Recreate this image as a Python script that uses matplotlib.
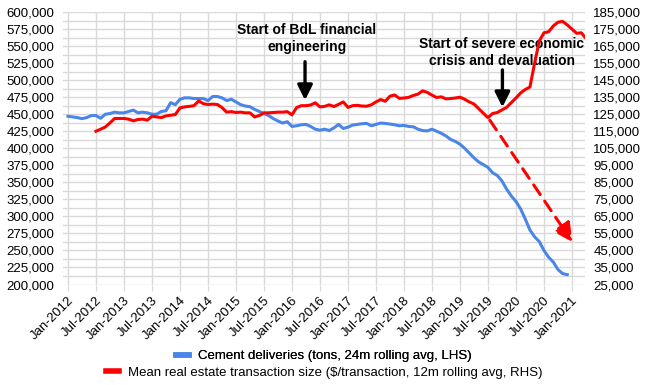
import numpy as np
import matplotlib
matplotlib.use("Agg")
import matplotlib.pyplot as plt
import matplotlib.transforms as mtransforms
from matplotlib.lines import Line2D

plt.rcParams['font.family'] = ['Liberation Sans', 'DejaVu Sans']

# month index 0 = Jan-2012
cement_start = 0
cement = [447, 446, 445, 443.5, 445, 448, 448, 444, 450, 451, 453, 452,
          452, 454, 456, 452, 453, 452, 450, 450, 454, 455, 467, 464,
          472, 474, 474, 473, 473, 473, 470, 476, 476, 474, 470, 472,
          468, 464, 462, 461, 457, 454, 451, 448, 443.5, 440, 437, 439,
          432, 433, 434.5, 435, 432, 428, 426.5, 428, 426, 430, 435, 429,
          431, 434, 435, 436, 436.5, 433, 435, 437, 436.5, 435.5, 434.5, 433,
          433.5, 432, 431.5, 428, 426, 425.5, 428, 425, 422, 418, 413, 410,
          406, 400, 393, 386, 380, 376, 372, 364, 360, 352, 340, 330,
          322, 311, 296, 280, 270, 263, 250, 240, 233, 222, 216, 214.5]
cement = np.array(cement) * 1000

txn_start = 6
txn = [115.0, 116.2, 117.5, 119.9, 122.5, 122.5,
       122.5, 122.1, 121.1, 121.9, 122.1, 121.5, 123.8, 123.4, 123.0, 124.0, 124.4, 124.8,
       128.7, 129.3, 129.6, 130.0, 132.8, 131.2, 130.7, 130.9, 130.7, 128.9, 126.2, 126.5,
       126.0, 126.2, 125.8, 125.8, 123.4, 124.2, 125.8, 125.8, 126.0, 126.2, 126.2, 126.5,
       124.6, 128.9, 130.0, 130.0, 130.4, 131.7, 129.3, 129.6, 130.5, 129.5, 130.8, 132.2,
       129.0, 130.0, 130.2, 129.8, 129.7, 130.5, 132.2, 133.6, 132.6, 135.6, 136.3, 134.3,
       134.5, 134.9, 136.0, 136.8, 138.7, 137.8, 136.2, 134.8, 135.2, 134.0, 134.2, 134.5,
       135.0, 133.8, 132.2, 131.0, 128.3, 125.6, 123.0, 125.4, 126.0, 127.5, 129.0, 131.8,
       134.5, 137.5, 139.5, 141.0, 155.0, 168.0, 172.8, 173.4, 176.8, 179.0, 179.5, 177.4,
       175.0, 172.5, 172.8, 169.5]
txn = np.array(txn) * 1000

tick_months = list(range(0, 109, 6))
tick_labels = ["Jan-2012", "Jul-2012", "Jan-2013", "Jul-2013", "Jan-2014", "Jul-2014",
               "Jan-2015", "Jul-2015", "Jan-2016", "Jul-2016", "Jan-2017", "Jul-2017",
               "Jan-2018", "Jul-2018", "Jan-2019", "Jul-2019", "Jan-2020", "Jul-2020",
               "Jan-2021"]

blue = '#4a86e8'
red = '#ff0000'
grid_c = '#d9d9d9'

fig = plt.figure(figsize=(6.48, 3.85), dpi=100)
ax = fig.add_axes([0.0972, 0.261, 0.8056, 0.7078])
ax2 = ax.twinx()

x_c = np.arange(len(cement)) + cement_start
x_t = np.arange(len(txn)) + txn_start
ax.plot(x_c, cement, color=blue, lw=2.2, zorder=3)
ax2.plot(x_t, txn, color=red, lw=2.2, zorder=3)

ax.set_xlim(-1.07, 110.8)
ax.set_ylim(200000, 600000)
ax2.set_ylim(25000, 185000)
ax.set_yticks(np.arange(200000, 600001, 25000))
ax.set_yticks(np.arange(212500, 600000, 25000), minor=True)
ax2.set_yticks(np.arange(25000, 185001, 10000))
ax.yaxis.set_major_formatter(matplotlib.ticker.StrMethodFormatter('{x:,.0f}'))
ax2.yaxis.set_major_formatter(matplotlib.ticker.StrMethodFormatter('{x:,.0f}'))
ax.set_xticks(tick_months)
ax.set_xticklabels(tick_labels, rotation=45, ha='right', rotation_mode='anchor')
# nudge rotated labels a little right, like the original
offset = mtransforms.ScaledTranslation(0.045, -0.01, fig.dpi_scale_trans)
for lbl in ax.get_xticklabels():
    lbl.set_transform(lbl.get_transform() + offset)

ax.grid(True, which='both', axis='y', color=grid_c, lw=1.0)
ax.grid(True, which='major', axis='x', color=grid_c, lw=1.0)
ax.set_axisbelow(True)
for a in (ax, ax2):
    for s in a.spines.values():
        s.set_visible(False)
ax.tick_params(axis='x', length=4, color=grid_c, labelsize=9.5, pad=3)
ax.tick_params(axis='y', which='both', length=0, labelsize=9.5, pad=6)
ax2.tick_params(axis='y', length=0, labelsize=9.5, pad=6)

# annotations
ax.text(51.2, 561000, "Start of BdL financial\nengineering", ha='center', va='center',
        fontsize=10, fontweight='bold', linespacing=1.25)
ax.annotate("", xy=(50.8, 470600), xytext=(50.8, 527000),
            arrowprops=dict(arrowstyle='-|>,head_length=0.6,head_width=0.3',
                            color='black', lw=2.4, mutation_scale=15, shrinkA=0, shrinkB=0))
ax.text(93.0, 541000, "Start of severe economic\ncrisis and devaluation", ha='center', va='center',
        fontsize=10, fontweight='bold', linespacing=1.25)
ax.annotate("", xy=(93.1, 460300), xytext=(93.1, 515000),
            arrowprops=dict(arrowstyle='-|>,head_length=0.6,head_width=0.3',
                            color='black', lw=2.4, mutation_scale=15, shrinkA=0, shrinkB=0))
ax2.annotate("", xy=(108.1, 49900), xytext=(90.4, 121500),
             arrowprops=dict(arrowstyle='-|>,head_length=0.75,head_width=0.38',
                             color=red, lw=2.2, linestyle=(0, (3.8, 2.6)),
                             mutation_scale=15, shrinkA=0, shrinkB=0))

h1 = [Line2D([], [], color=blue, lw=4)]
h2 = [Line2D([], [], color=red, lw=4)]
leg1 = fig.legend(h1, ["Cement deliveries (tons, 24m rolling avg, LHS)"], loc='center',
                  bbox_to_anchor=(0.5, 0.0753), frameon=False, fontsize=9.5,
                  handlelength=1.0, handletextpad=0.7, borderpad=0, borderaxespad=0)
leg2 = fig.legend(h2, ["Mean real estate transaction size ($/transaction, 12m rolling avg, RHS)"],
                  loc='center', bbox_to_anchor=(0.5, 0.0312), frameon=False, fontsize=9.5,
                  handlelength=1.0, handletextpad=0.7, borderpad=0, borderaxespad=0)
fig.add_artist(leg1)

fig.savefig("out.png", dpi=100)
